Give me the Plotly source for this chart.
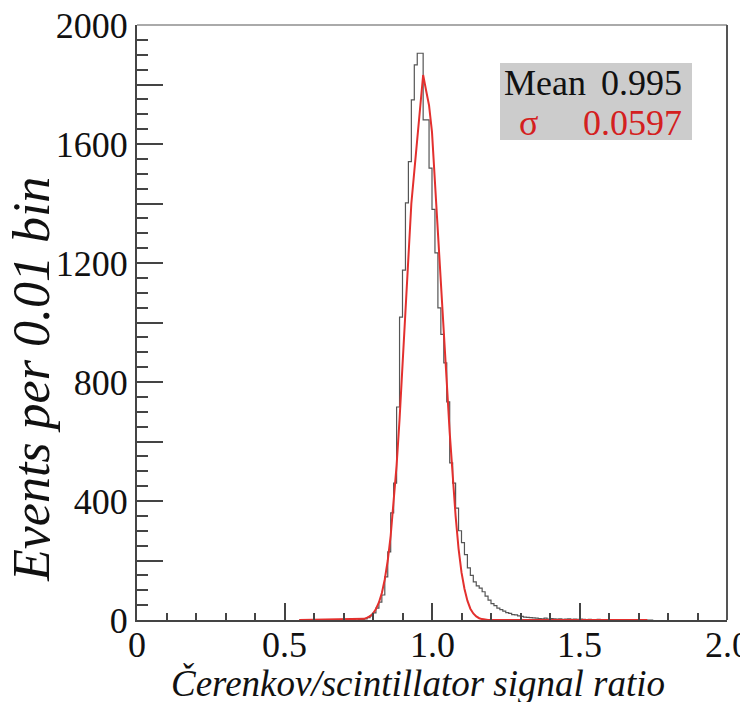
import plotly.graph_objects as go

# Histogram of the Cerenkov/scintillator signal ratio, 0.01 wide bins
bin_width = 0.01
hist_start = 0.55
counts = [
    0, 0, 1, 0, 0, 1, 0, 0, 1, 0, 1, 0, 0, 1, 0, 1, 1, 0,          # 0.55 - 0.72
    3, 5, 2, 2, 4, 8, 14,                                           # 0.73 - 0.79
    24, 40, 60, 84, 145, 229, 360, 460, 716, 1018,                  # 0.80 - 0.89
    1176, 1402, 1541, 1748, 1866, 1905, 1905, 1681, 1681, 1519,     # 0.90 - 0.99
    1380, 1234, 1049, 960, 864, 733, 528, 460, 376, 300,            # 1.00 - 1.09
    260, 220, 175, 150, 128, 115, 107, 95, 80, 67,                  # 1.10 - 1.19
    55, 48, 40, 35, 30, 25, 22, 18, 17, 14,                         # 1.20 - 1.29
    12, 10, 9, 8, 7, 6, 5, 4, 6, 3,                                 # 1.30 - 1.39
    5, 4, 3, 4, 2, 3, 4, 2, 3, 2,                                   # 1.40 - 1.49
    3, 2, 1, 2, 1, 1, 2, 1, 0, 1,                                   # 1.50 - 1.59
    1, 0, 1, 0, 1, 0, 0, 1, 0, 0,                                   # 1.60 - 1.69
    1, 0, 0, 0, 0,                                                  # 1.70 - 1.74
]

# Gaussian fit curve, sampled points
fit_x = [0.55, 0.76, 0.77, 0.78, 0.79, 0.80, 0.81, 0.82, 0.83, 0.84, 0.85,
         0.86, 0.87, 0.88, 0.89, 0.90, 0.91, 0.92, 0.93, 0.94, 0.95, 0.96,
         0.97, 0.98, 0.99, 1.00, 1.01, 1.02, 1.03, 1.04, 1.05, 1.06, 1.07,
         1.08, 1.09, 1.10, 1.11, 1.12, 1.13, 1.14, 1.15, 1.16, 1.17, 1.18,
         1.19, 1.73]
fit_y = [0, 2, 4, 8, 13, 22, 37, 59, 91, 137, 200,
         284, 390, 520, 674, 850, 1030, 1215, 1400, 1508, 1616, 1724,
         1832, 1780, 1730, 1640, 1480, 1320, 1150, 975, 800, 630, 480,
         350, 240, 160, 105, 65, 38, 22, 12, 6, 3, 1,
         0, 0]

stat_mean = "0.995"
stat_sigma = "0.0597"

x_tick_vals = [0, 0.5, 1.0, 1.5, 2.0]
x_tick_text = ["0", "0.5", "1.0", "1.5", "2.0"]
y_tick_vals = [0, 200, 400, 600, 800, 1000, 1200, 1400, 1600, 1800, 2000]
y_tick_text = ["0", "", "400", "", "800", "", "1200", "", "1600", "", "2000"]

# step outline from bin edges
edges = [hist_start + i * bin_width for i in range(len(counts) + 1)]
step_y = counts + [counts[-1]]

SERIF = "Liberation Serif, Times New Roman, serif"
AXIS_COL = "#444444"
TEXT_COL = "#111111"

fig = go.Figure()
fig.add_trace(go.Scatter(
    x=edges, y=step_y, mode="lines", line_shape="hv",
    line=dict(color="#555555", width=1.2), hoverinfo="skip", showlegend=False,
))
fig.add_trace(go.Scatter(
    x=fit_x, y=fit_y, mode="lines",
    line=dict(color="#e3302e", width=2), hoverinfo="skip", showlegend=False,
))

# plot-area geometry in pixels
L, R, T, B = 137, 727, 25, 620
PW, PH = R - L, B - T


def px(x):
    return (x - L) / PW


def py(y):
    return (B - y) / PH


annotations = []
# x tick labels, placed just under the axis
for v, t in zip(x_tick_vals, x_tick_text):
    annotations.append(dict(
        text=t, x=v, y=py(645), xref="x", yref="paper",
        xanchor="center", yanchor="middle", showarrow=False,
        font=dict(family=SERIF, size=36, color=TEXT_COL)))

annotations += [
    dict(text="Mean", x=px(502), y=py(83), xref="paper", yref="paper",
         xanchor="left", yanchor="middle", showarrow=False,
         font=dict(family=SERIF, size=36, color=TEXT_COL)),
    dict(text=stat_mean, x=px(684), y=py(83), xref="paper", yref="paper",
         xanchor="right", yanchor="middle", showarrow=False,
         font=dict(family=SERIF, size=36, color=TEXT_COL)),
    dict(text="σ", x=px(517), y=py(123), xref="paper", yref="paper",
         xanchor="left", yanchor="middle", showarrow=False,
         font=dict(family=SERIF, size=36, color="#d42020")),
    dict(text=stat_sigma, x=px(684), y=py(123), xref="paper", yref="paper",
         xanchor="right", yanchor="middle", showarrow=False,
         font=dict(family=SERIF, size=36, color="#d42020")),
    # axis titles
    dict(text="<i>Čerenkov/scintillator signal ratio</i>",
         x=px(418), y=py(683), xref="paper", yref="paper",
         xanchor="center", yanchor="middle", showarrow=False,
         font=dict(family=SERIF, size=37, color=TEXT_COL)),
    dict(text="<i>Events per 0.01 bin</i>", textangle=-90,
         x=px(31), y=py(380), xref="paper", yref="paper",
         xanchor="center", yanchor="middle", showarrow=False,
         font=dict(family=SERIF, size=52, color=TEXT_COL)),
]

fig.update_layout(
    width=740, height=702,
    margin=dict(l=L, r=740 - R, t=T, b=702 - B, autoexpand=False),
    paper_bgcolor="white", plot_bgcolor="white",
    font=dict(family=SERIF, size=36, color=TEXT_COL),
    xaxis=dict(
        range=[0, 2.0], tickvals=x_tick_vals, ticktext=x_tick_text,
        showticklabels=False, automargin=False,
        ticks="inside", ticklen=17, tickwidth=2, tickcolor=AXIS_COL,
        minor=dict(dtick=0.1, ticks="inside", ticklen=7, tickwidth=1.5,
                   tickcolor=AXIS_COL, showgrid=False),
        showline=True, linecolor=AXIS_COL, linewidth=2,
        showgrid=False, zeroline=False,
    ),
    yaxis=dict(
        range=[0, 2000], tickvals=y_tick_vals, ticktext=y_tick_text,
        automargin=False,
        ticks="inside", ticklen=26, tickwidth=2, tickcolor=AXIS_COL,
        minor=dict(dtick=50, ticks="inside", ticklen=11, tickwidth=2,
                   tickcolor=AXIS_COL, showgrid=False),
        showline=True, linecolor=AXIS_COL, linewidth=2,
        showgrid=False, zeroline=False,
        tickfont=dict(family=SERIF, size=36, color=TEXT_COL),
    ),
    shapes=[
        # frame: top and right edges
        dict(type="line", xref="paper", yref="paper", x0=0, x1=1, y0=1, y1=1,
             line=dict(color="#aaaaaa", width=2)),
        dict(type="line", xref="paper", yref="paper", x0=1, x1=1, y0=0, y1=1,
             line=dict(color="#555555", width=2)),
        # statistics box
        dict(type="rect", xref="paper", yref="paper",
             x0=px(500), x1=px(692), y0=py(140), y1=py(63),
             fillcolor="#cccccc", line=dict(width=0), layer="below"),
    ],
    annotations=annotations,
)

fig.write_html("out.html")
